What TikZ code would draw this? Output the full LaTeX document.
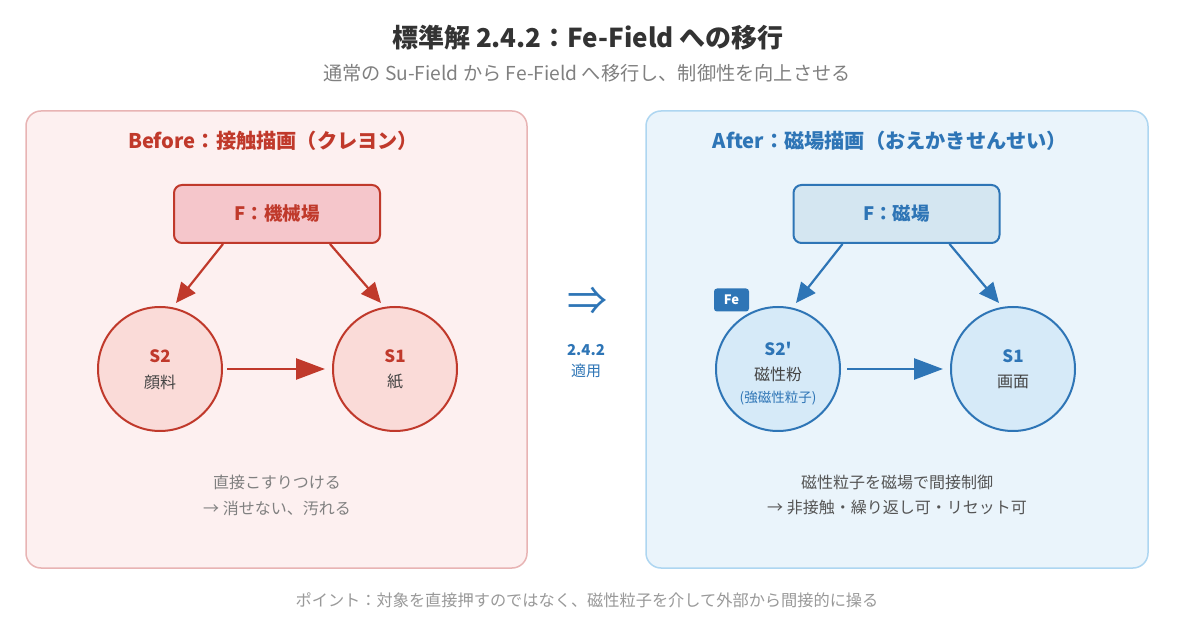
\documentclass[tikz,border=0pt]{standalone}
\usepackage{fontspec}
\setmainfont{Noto Sans CJK JP}[Ligatures=TeXOff]
\usetikzlibrary{arrows.meta}
\definecolor{titlec}{HTML}{333333}
\definecolor{subc}{HTML}{808080}
\definecolor{redc}{HTML}{C0392B}
\definecolor{redpanel}{HTML}{FDF0F0}
\definecolor{redpanelb}{HTML}{E8B4B4}
\definecolor{redbox}{HTML}{F5C6CB}
\definecolor{redcirc}{HTML}{FADBD8}
\definecolor{bluec}{HTML}{2E75B6}
\definecolor{bluepanel}{HTML}{EAF4FB}
\definecolor{bluepanelb}{HTML}{AED6F1}
\definecolor{bluebox}{HTML}{D4E6F1}
\definecolor{bluecirc}{HTML}{D6EAF8}
\definecolor{darkt}{HTML}{444444}
\definecolor{capl}{HTML}{808080}
\definecolor{capr}{HTML}{555555}
\definecolor{footc}{HTML}{999999}
\tikzset{
  panel/.style={rounded corners=15pt, line width=1.5pt},
  fbox/.style={rounded corners=8pt, line width=2pt, minimum width=206pt, minimum height=58pt, inner sep=0pt, font=\fontsize{18.5}{20}\selectfont\bfseries},
  circ/.style={circle, line width=2pt, minimum size=124pt, inner sep=0pt},
  arr/.style={line width=2.2pt, -{Triangle[length=20pt,width=18pt]}},
  harr/.style={line width=2.6pt, -{Triangle[length=29pt,width=21pt]}},
  lbl/.style={inner sep=0pt, anchor=center},
}
\begin{document}
\begin{tikzpicture}[x=1pt,y=-1pt]
\useasboundingbox (0,0) rectangle (1200,617);
\fill[white] (0,0) rectangle (1200,617);
% titles
\node[lbl, text=titlec, font=\fontsize{26}{28}\selectfont\bfseries] (title) at (588,38) {標準解 2.4.2：Fe-Field への移行};
\node[lbl, text=subc, font=\fontsize{19.2}{21}\selectfont] (subtitle) at (587,73) {通常の Su-Field から Fe-Field へ移行し、制御性を向上させる};
% panels
\draw[panel, fill=redpanel, draw=redpanelb] (26,111) rectangle (527,568);
\draw[panel, fill=bluepanel, draw=bluepanelb] (646,111) rectangle (1148,568);
% left
\node[lbl, text=redc, font=\fontsize{20.2}{22}\selectfont\bfseries] (lhead) at (273,141) {Before：接触描画（クレヨン）};
\node[fbox, draw=redc, fill=redbox, text=redc] (F1) at (277,214) {F：機械場};
\node[circ, draw=redc, fill=redcirc] (S2) at (160,369) {};
\node[circ, draw=redc, fill=redcirc] (S1) at (395,369) {};
\node[lbl, text=redc, font=\fontsize{17}{18}\selectfont\bfseries] (s2a) at (160,356) {S2};
\node[lbl, text=darkt, font=\fontsize{16}{18}\selectfont] (s2b) at (160,382) {顔料};
\node[lbl, text=redc, font=\fontsize{17}{18}\selectfont\bfseries] (s1a) at (395,356) {S1};
\node[lbl, text=darkt, font=\fontsize{16}{18}\selectfont] (s1b) at (395,382) {紙};
\coordinate (t1) at (176,303);
\coordinate (t2) at (381,303);
\draw[arr, draw=redc, fill=redc] ([xshift=-54pt]F1.south) -- (t1);
\draw[arr, draw=redc, fill=redc] ([xshift=53pt]F1.south) -- (t2);
\draw[harr, draw=redc, fill=redc, shorten <=4pt, shorten >=7pt] (S2) -- (S1);
\node[lbl, text=capl, font=\fontsize{16}{18}\selectfont] (lc1) at (277,482) {直接こすりつける};
\node[lbl, text=capl, font=\fontsize{16}{18}\selectfont] (lc2) at (277,508) {→ 消せない、汚れる};
% middle
\node[lbl, text=bluec, font=\fontsize{40}{40}\selectfont] (imp) at (587,301) {⇒};
\node[lbl, text=bluec, font=\fontsize{15}{17}\selectfont\bfseries] (mid1) at (586,350) {2.4.2};
\node[lbl, text=bluec, font=\fontsize{15}{17}\selectfont] (mid2) at (586,371) {適用};
% right
\node[lbl, text=bluec, font=\fontsize{20.2}{22}\selectfont\bfseries] (rhead) at (890,141) {After：磁場描画（おえかきせんせい）};
\node[fbox, draw=bluec, fill=bluebox, text=bluec] (F2) at (896.5,214) {F：磁場};
\node[circ, draw=bluec, fill=bluecirc] (S2p) at (778,369) {};
\node[circ, draw=bluec, fill=bluecirc] (S1r) at (1013,369) {};
\node[lbl, text=bluec, font=\fontsize{17}{18}\selectfont\bfseries] (s2pa) at (778,349) {S2'};
\node[lbl, text=darkt, font=\fontsize{16}{18}\selectfont] (s2pb) at (778,374) {磁性粉};
\node[lbl, text=bluec, font=\fontsize{13.5}{15}\selectfont] (s2pc) at (778,398) {(強磁性粒子)};
\node[lbl, text=bluec, font=\fontsize{17}{18}\selectfont\bfseries] (s1ra) at (1013,356) {S1};
\node[lbl, text=darkt, font=\fontsize{16}{18}\selectfont] (s1rb) at (1013,382) {画面};
\node[rounded corners=3pt, fill=bluec, text=white, minimum width=35pt, minimum height=23pt, inner sep=0pt, font=\fontsize{13}{14}\selectfont\bfseries] (fe) at (731.5,300) {Fe};
\coordinate (t3) at (796,303);
\coordinate (t4) at (999,303);
\draw[arr, draw=bluec, fill=bluec] ([xshift=-54pt]F2.south) -- (t3);
\draw[arr, draw=bluec, fill=bluec] ([xshift=53pt]F2.south) -- (t4);
\draw[harr, draw=bluec, fill=bluec, shorten <=6pt, shorten >=7pt] (S2p) -- (S1r);
\node[lbl, text=capr, font=\fontsize{16}{18}\selectfont] (rc1) at (897,482) {磁性粒子を磁場で間接制御};
\node[lbl, text=capr, font=\fontsize{16}{18}\selectfont] (rc2) at (897,508) {→ 非接触・繰り返し可・リセット可};
% footer
\node[lbl, text=footc, font=\fontsize{16.2}{18}\selectfont] (foot) at (587,600) {ポイント：対象を直接押すのではなく、磁性粒子を介して外部から間接的に操る};
\end{tikzpicture}
\end{document}
